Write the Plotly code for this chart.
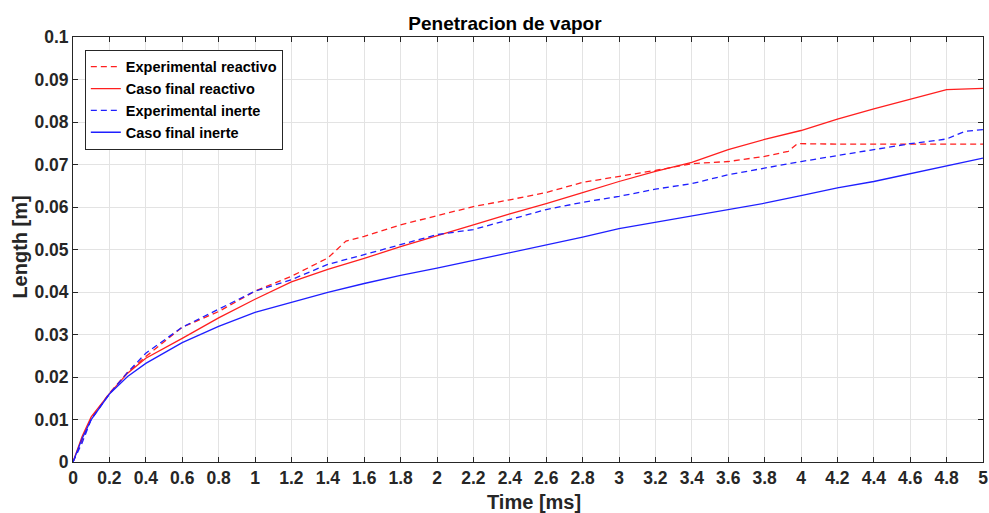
import plotly.graph_objects as go

# Time axis (ms) and penetration length (m) for each series
t_exp_reactivo = [0, 0.05, 0.1, 0.2, 0.3, 0.4, 0.6, 0.8, 1.0, 1.2, 1.4, 1.5, 1.6, 1.8, 2.0, 2.2, 2.4, 2.6,
                  2.8, 3.0, 3.2, 3.4, 3.6, 3.8, 3.93, 3.98, 4.2, 4.6, 5.0]
l_exp_reactivo = [0, 0.005, 0.0102, 0.0162, 0.0211, 0.0248, 0.0317, 0.0354, 0.0402, 0.0437, 0.0480, 0.0520,
                  0.0531, 0.0558, 0.0580, 0.0601, 0.0617, 0.0634, 0.0658, 0.0672, 0.0686, 0.0702, 0.0707,
                  0.0719, 0.0731, 0.0749, 0.0748, 0.0748, 0.0748]

t_caso_reactivo = [0, 0.05, 0.1, 0.2, 0.3, 0.4, 0.6, 0.8, 1.0, 1.2, 1.4, 1.6, 1.8, 2.0, 2.2, 2.4, 2.6, 2.8,
                   3.0, 3.2, 3.4, 3.6, 3.8, 4.0, 4.2, 4.4, 4.6, 4.8, 5.0]
l_caso_reactivo = [0, 0.0060, 0.0106, 0.0161, 0.0209, 0.0244, 0.0291, 0.0339, 0.0383, 0.0424, 0.0453, 0.0479,
                   0.0507, 0.0532, 0.0558, 0.0584, 0.0608, 0.0634, 0.0660, 0.0684, 0.0705, 0.0735, 0.0759,
                   0.0780, 0.0807, 0.0831, 0.0854, 0.0876, 0.0879]

t_exp_inerte = [0, 0.05, 0.1, 0.2, 0.3, 0.4, 0.6, 0.8, 1.0, 1.2, 1.4, 1.6, 1.8, 2.0, 2.2, 2.4, 2.6, 2.8,
                3.0, 3.2, 3.4, 3.6, 3.8, 4.0, 4.2, 4.4, 4.6, 4.8, 4.9, 5.0]
l_exp_inerte = [0, 0.0045, 0.0100, 0.0160, 0.0211, 0.0256, 0.0317, 0.0360, 0.0402, 0.0429, 0.0465, 0.0488,
                0.0511, 0.0535, 0.0547, 0.0570, 0.0594, 0.0611, 0.0625, 0.0642, 0.0655, 0.0676, 0.0692,
                0.0707, 0.0721, 0.0735, 0.0749, 0.0760, 0.0778, 0.0782]

t_caso_inerte = [0, 0.05, 0.1, 0.2, 0.3, 0.4, 0.6, 0.8, 1.0, 1.2, 1.3, 1.4, 1.6, 1.8, 2.0, 2.2, 2.4, 2.6,
                 2.8, 3.0, 3.2, 3.4, 3.6, 3.8, 4.0, 4.2, 4.4, 4.6, 4.8, 5.0]
l_caso_inerte = [0, 0.0055, 0.0100, 0.0160, 0.0201, 0.0232, 0.0281, 0.0319, 0.0352, 0.0376, 0.0387, 0.0399,
                 0.0420, 0.0439, 0.0456, 0.0474, 0.0492, 0.0511, 0.0529, 0.0549, 0.0564, 0.0580, 0.0594,
                 0.0609, 0.0627, 0.0645, 0.0660, 0.0678, 0.0696, 0.0715]

x_ticks = [round(0.2 * i, 1) for i in range(26)]
x_tick_labels = [("%g" % v) for v in x_ticks]
y_ticks = [round(0.01 * i, 2) for i in range(11)]
y_tick_labels = [("%g" % v) for v in y_ticks]

RED = "#ff1f1f"
BLUE = "#1f1fff"
DASH = "6px,4px"
FONT = "Liberation Sans, Arial, sans-serif"

fig = go.Figure()
fig.add_trace(go.Scatter(x=t_exp_reactivo, y=l_exp_reactivo, mode="lines", name="<b>Experimental reactivo</b>",
                         line=dict(color=RED, width=1.3, dash=DASH)))
fig.add_trace(go.Scatter(x=t_caso_reactivo, y=l_caso_reactivo, mode="lines", name="<b>Caso final reactivo</b>",
                         line=dict(color=RED, width=1.3)))
fig.add_trace(go.Scatter(x=t_exp_inerte, y=l_exp_inerte, mode="lines", name="<b>Experimental inerte</b>",
                         line=dict(color=BLUE, width=1.3, dash=DASH)))
fig.add_trace(go.Scatter(x=t_caso_inerte, y=l_caso_inerte, mode="lines", name="<b>Caso final inerte</b>",
                         line=dict(color=BLUE, width=1.3)))

axis_font = dict(family=FONT, size=17.5, color="#262626")
label_font = dict(family=FONT, size=20, color="#262626")
common_axis = dict(showgrid=True, gridcolor="#e3e3e3", gridwidth=1, zeroline=False,
                   showline=True, linecolor="#262626", linewidth=1, mirror="ticks",
                   ticks="inside", ticklen=5, tickcolor="#262626", tickfont=axis_font,
                   automargin=False)

fig.update_layout(
    width=989, height=513,
    margin=dict(l=73, r=6, t=37, b=51),
    paper_bgcolor="white", plot_bgcolor="white",
    title=dict(text="<b>Penetracion de vapor</b>", x=0.4747, xref="paper", xanchor="center",
               y=0.955, yanchor="middle",
               font=dict(family=FONT, size=19, color="#000000"), automargin=False),
    xaxis=dict(range=[0, 5], tickvals=x_ticks, ticktext=["<b>%s</b>" % s for s in x_tick_labels],
               **common_axis),
    yaxis=dict(range=[0, 0.1], tickvals=y_ticks, ticktext=["<b>%s</b>" % s for s in y_tick_labels],
               **common_axis),
    legend=dict(x=0.013, y=0.97, xanchor="left", yanchor="top", bgcolor="white",
                bordercolor="#262626", borderwidth=1, tracegroupgap=0, itemwidth=30,
                font=dict(family=FONT, size=14.5, color="#000000")),
    showlegend=True,
)

# Axis titles placed as paper-anchored labels
fig.add_annotation(text="<b>Time [ms]</b>", xref="paper", yref="paper", x=0.507, y=-0.094,
                   xanchor="center", yanchor="middle", showarrow=False, font=label_font)
fig.add_annotation(text="<b>Length [m]</b>", xref="paper", yref="paper", x=-0.058, y=0.505,
                   xanchor="center", yanchor="middle", textangle=-90, showarrow=False, font=label_font)

fig.write_html("out.html")
